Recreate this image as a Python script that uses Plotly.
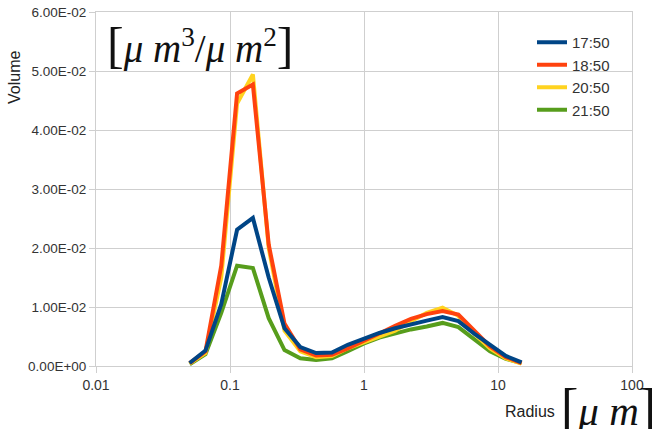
import plotly.graph_objects as go

# Radius bins (um)
radius = [0.050000, 0.065604, 0.086077, 0.112939, 0.148184, 0.194429, 0.255105,
          0.334716, 0.439173, 0.576227, 0.756052, 0.991996, 1.301571, 1.707757,
          2.240702, 2.939966, 3.857452, 5.061260, 6.640745, 8.713145, 11.432287,
          15.000000]

v_1750 = [0.0005, 0.0026, 0.0105, 0.0231, 0.0251, 0.0150, 0.0064, 0.0032,
          0.0022, 0.0023, 0.0036, 0.0046, 0.0056, 0.0064, 0.0071, 0.0077,
          0.0083, 0.0076, 0.0055, 0.0035, 0.0017, 0.0006]
v_1850 = [0.0005, 0.0025, 0.0170, 0.0462, 0.0477, 0.0206, 0.0072, 0.0028,
          0.0018, 0.0019, 0.0030, 0.0042, 0.0055, 0.0068, 0.0080, 0.0088,
          0.0093, 0.0087, 0.0060, 0.0033, 0.0015, 0.0005]
v_2050 = [0.0004, 0.0022, 0.0150, 0.0445, 0.0494, 0.0200, 0.0060, 0.0025,
          0.0015, 0.0017, 0.0030, 0.0040, 0.0050, 0.0060, 0.0076, 0.0090,
          0.0099, 0.0085, 0.0055, 0.0030, 0.0013, 0.0004]
v_2150 = [0.0003, 0.0020, 0.0090, 0.0170, 0.0166, 0.0081, 0.0027, 0.0013,
          0.0010, 0.0013, 0.0025, 0.0038, 0.0048, 0.0055, 0.0062, 0.0067,
          0.0073, 0.0066, 0.0045, 0.0025, 0.0012, 0.0005]

series_names = ["17:50", "18:50", "20:50", "21:50"]
series_vals = [v_1750, v_1850, v_2050, v_2150]
series_colors = ["#004586", "#ff420e", "#ffd320", "#579d1c"]

y_ticks = [0, 0.01, 0.02, 0.03, 0.04, 0.05, 0.06]
y_ticktext = ["0.00E+00", "1.00E-02", "2.00E-02", "3.00E-02", "4.00E-02", "5.00E-02", "6.00E-02"]
x_ticks = [0.01, 0.1, 1, 10, 100]
x_ticktext = ["0.01", "0.1", "1", "10", "100"]

fig = go.Figure()
# draw in reverse so the first series sits on top
for i in reversed(range(4)):
    fig.add_trace(go.Scatter(
        x=radius, y=series_vals[i], mode="lines", name=series_names[i],
        line=dict(color=series_colors[i], width=4), legendrank=i + 1))

grid = "#cfcfcf"
L, R, T, B = 96, 20, 12, 63
PW, PH = 652 - L - R, 429 - T - B


def px(xp):
    return (xp - L) / PW


def py(yp):
    return (429 - B - yp) / PH


fig.update_layout(
    width=652, height=429,
    margin=dict(l=L, r=R, t=T, b=B, autoexpand=False),
    paper_bgcolor="white", plot_bgcolor="white",
    font=dict(family="Liberation Sans, Arial, sans-serif", color="#333333"),
    showlegend=True,
    legend=dict(x=px(532), y=py(26), xref="paper", yref="paper",
                xanchor="left", yanchor="top", bgcolor="rgba(0,0,0,0)",
                font=dict(size=15, color="#333333"), itemwidth=30),
    xaxis=dict(type="log", range=[-2, 2], tickvals=x_ticks, ticktext=x_ticktext,
               showgrid=True, gridcolor=grid, gridwidth=1,
               showline=True, linecolor=grid, mirror=True,
               ticks="outside", ticklen=6, tickcolor=grid,
               tickfont=dict(size=14, color="#333333"), zeroline=False),
    yaxis=dict(range=[0, 0.06], tickvals=y_ticks, ticktext=y_ticktext,
               showgrid=True, gridcolor=grid, gridwidth=1,
               showline=True, linecolor=grid, mirror=True,
               ticks="outside", ticklen=6, tickcolor=grid,
               tickfont=dict(size=13.5, color="#333333"), zeroline=False),
)

serif = "Liberation Serif, Times New Roman, serif"
fig.add_annotation(text="Volume", textangle=-90, xref="paper", yref="paper",
                   x=px(15), y=py(78), xanchor="center", yanchor="middle", showarrow=False,
                   font=dict(size=16, color="#222222"))
fig.add_annotation(text="Radius", xref="paper", yref="paper",
                   x=px(530), y=py(411), xanchor="center", yanchor="middle", showarrow=False,
                   font=dict(size=16, color="#222222"))
fig.add_annotation(
    text='<span style="font-size:50px">[</span><i>μ m</i><sup>3</sup>/<i>μ m</i>'
         '<sup>2</sup><span style="font-size:50px">]</span>',
    xref="paper", yref="paper", x=px(105), y=py(15),
    xanchor="left", yanchor="top", showarrow=False,
    font=dict(size=39, family=serif, color="#111111"))
fig.add_annotation(
    text='<span style="font-size:52px">[</span><i>μ m</i>'
         '<span style="font-size:52px">]</span>',
    xref="paper", yref="paper", x=px(559), y=py(377), xanchor="left", yanchor="top",
    showarrow=False, font=dict(size=41, family=serif, color="#111111"))

fig.write_html("out.html")
